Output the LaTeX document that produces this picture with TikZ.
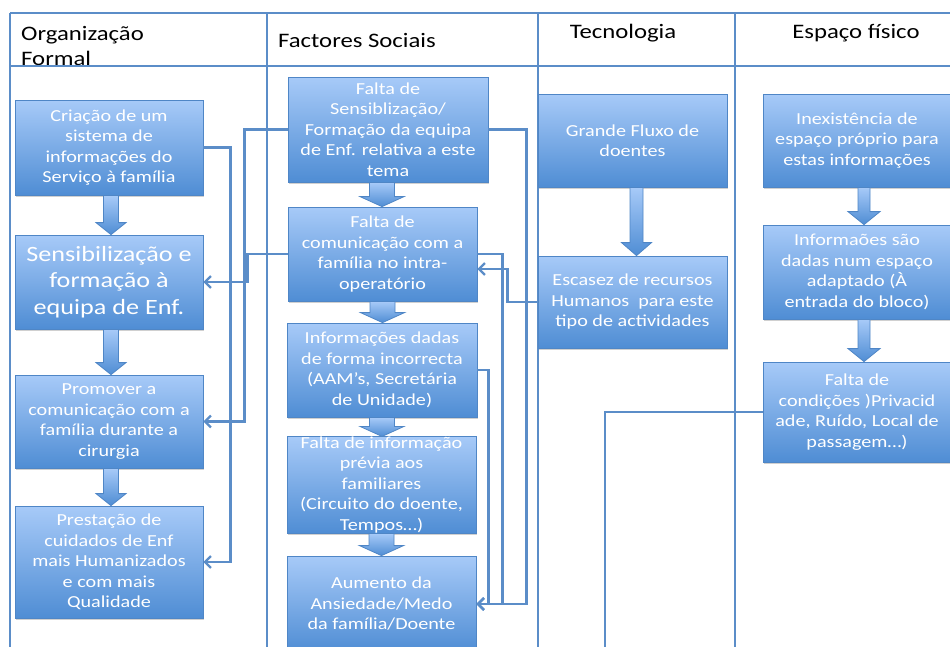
\documentclass[tikz,border=0pt]{standalone}
\usepackage{fontspec}
\setmainfont{Carlito}[FakeStretch=1.2]
\usetikzlibrary{calc,arrows.meta,shadows}
\definecolor{linec}{HTML}{5B8DC8}
\definecolor{boxtop}{HTML}{A7CAF8}
\definecolor{boxbot}{HTML}{4F8DD4}
\definecolor{boxdraw}{HTML}{4F86C6}
\tikzset{
 box/.style={rectangle, draw=boxdraw, line width=0.8pt, top color=boxtop, bottom color=boxbot,
   text=white, align=center, inner sep=0pt, font=\fontsize{16.8}{20.5}\selectfont,
   drop shadow={shadow xshift=1pt, shadow yshift=-2pt, opacity=0.3, fill=black!60}},
 bigbox/.style={box, font=\fontsize{21.8}{26.7}\selectfont},
 conn/.style={draw=linec, line width=2.6pt},
 carrow/.style={conn, -{Straight Barb[length=6pt,width=12pt,line width=2.2pt]}},
 gridline/.style={draw=linec, line width=2.8pt},
 hdr/.style={font=\fontsize{20.6}{25}\selectfont, text=black, inner sep=0pt},
 barr/.style={draw=boxdraw, line width=0.8pt, top color=boxtop, bottom color=boxbot},
}
\newcommand{\blkarrow}[6]{%
 \path[barr] let \p1=($(#1.south)+(#3,0)$), \p2=(#2.north) in
  (\x1-#4,\y1) -- (\x1+#4,\y1) -- (\x1+#4,\y2+#6) -- (\x1+#5,\y2+#6) -- (\x1,\y2)
  -- (\x1-#5,\y2+#6) -- (\x1-#4,\y2+#6) -- cycle;}
\begin{document}
\begin{tikzpicture}[x=1pt,y=-1pt]
\useasboundingbox (0,0) rectangle (950,646);
\clip (0,0) rectangle (950,646);
\fill[white] (0,0) rectangle (950,646);
% header texts
\node[hdr, align=left, anchor=west] (h1) at (21,46) {Organização\\Formal};
\node[hdr, anchor=west] (h2) at (278,40) {Factores Sociais};
\node[hdr] (h3) at (623,33) {Tecnologia};
\node[hdr] (h4) at (856,33) {Espaço físico};
% table
\draw[gridline] (10,13) -- (955,13);
\draw[gridline] (10,66) -- (955,66);
\draw[gridline] (10,13) -- (10,650);
\draw[gridline] (267,13) -- (267,650);
\draw[gridline] (538,13) -- (538,650);
\draw[gridline] (735,13) -- (735,650);
% left column
\node[box, minimum width=188pt, minimum height=95pt] (L1) at (109,147.5)
 {Criação de um\\sistema de\\informações do\\Serviço à família};
\node[bigbox, minimum width=188pt, minimum height=94pt] (L2) at (109,282)
 {Sensibilização e\\formação à\\equipa de Enf.};
\node[box, minimum width=188pt, minimum height=93pt] (L3) at (109,421.5)
 {Promover a\\comunicação com a\\família durante a\\cirurgia};
\node[box, minimum width=188pt, minimum height=112pt] (L4) at (109,562)
 {Prestação de\\cuidados de Enf\\mais Humanizados\\e com mais\\Qualidade};
% middle column
\node[box, minimum width=200pt, minimum height=105pt] (M1) at (388,129.5)
 {Falta de\\Sensiblização/\\Formação da equipa\\de Enf. relativa a este\\tema};
\node[box, minimum width=189pt, minimum height=94pt] (M2) at (382.5,254)
 {Falta de\\comunicação com a\\família no intra-\\operatório};
\node[box, minimum width=190pt, minimum height=94pt] (M3) at (382,370)
 {Informações dadas\\de forma incorrecta\\(AAM’s, Secretária\\de Unidade)};
\node[box, minimum width=189pt, minimum height=94pt] (M4) at (381.5,485)
 {Falta de informação\\prévia aos\\familiares\\(Circuito do doente,\\Tempos…)};
\node[box, minimum width=189pt, minimum height=96pt] (M5) at (381.5,604)
 {Aumento da\\Ansiedade/Medo\\da família/Doente};
% tecnologia
\node[box, minimum width=189pt, minimum height=93pt] (T1) at (632.5,140.5)
 {Grande Fluxo de\\doentes};
\node[box, minimum width=189pt, minimum height=92pt] (T2) at (632.5,302)
 {Escasez de recursos\\Humanos~ para este\\tipo de actividades};
% espaco fisico
\node[box, minimum width=188pt, minimum height=93pt] (E1) at (857,140.5)
 {Inexistência de\\espaço próprio para\\estas informações};
\node[box, minimum width=188pt, minimum height=94pt] (E2) at (857,272)
 {Informaões são\\dadas num espaço\\adaptado (À\\entrada do bloco)};
\node[box, minimum width=188pt, minimum height=100pt] (E3) at (857,412)
 {Falta de\\condições )Privacid\\ade, Ruído, Local de\\passagem…)};
% block arrows
\blkarrow{L1}{L2}{2}{7.5pt}{15pt}{12pt}
\blkarrow{L2}{L3}{2}{7.5pt}{15pt}{12pt}
\blkarrow{L3}{L4}{2}{7.5pt}{15pt}{12pt}
\blkarrow{M1}{M2}{-6}{12.5pt}{22pt}{10pt}
\blkarrow{M2}{M3}{0}{12.5pt}{22pt}{10pt}
\blkarrow{M3}{M4}{0}{12.5pt}{22pt}{10pt}
\blkarrow{M4}{M5}{0}{12.5pt}{22pt}{10pt}
\blkarrow{T1}{T2}{4}{6.5pt}{15pt}{13pt}
\blkarrow{E1}{E2}{7}{6pt}{16pt}{13pt}
\blkarrow{E2}{E3}{7}{6pt}{16pt}{13pt}
% connectors
\coordinate (e3end) at (605,650);
\draw[carrow] (L1.east) -- ++(27,0) |- (L4.east);
\draw[carrow] (M1.west) -- ++(-43,0) |- (L3.east);
\draw[carrow] (M2.west) -- ++(-40,0) |- (L2.east);
\draw[carrow] (M1.east) -- ++(38,0) |- (M5.east);
\draw[carrow] (M2.east) -- ++(25,0) |- (M5.east);
\draw[carrow] (M3.east) -- ++(11,0) |- (M5.east);
\draw[carrow] (T2.west) -- ++(-30,0) |- ([yshift=-15pt]M2.east);
\draw[conn] (E3.west) -| (e3end);
\end{tikzpicture}
\end{document}
